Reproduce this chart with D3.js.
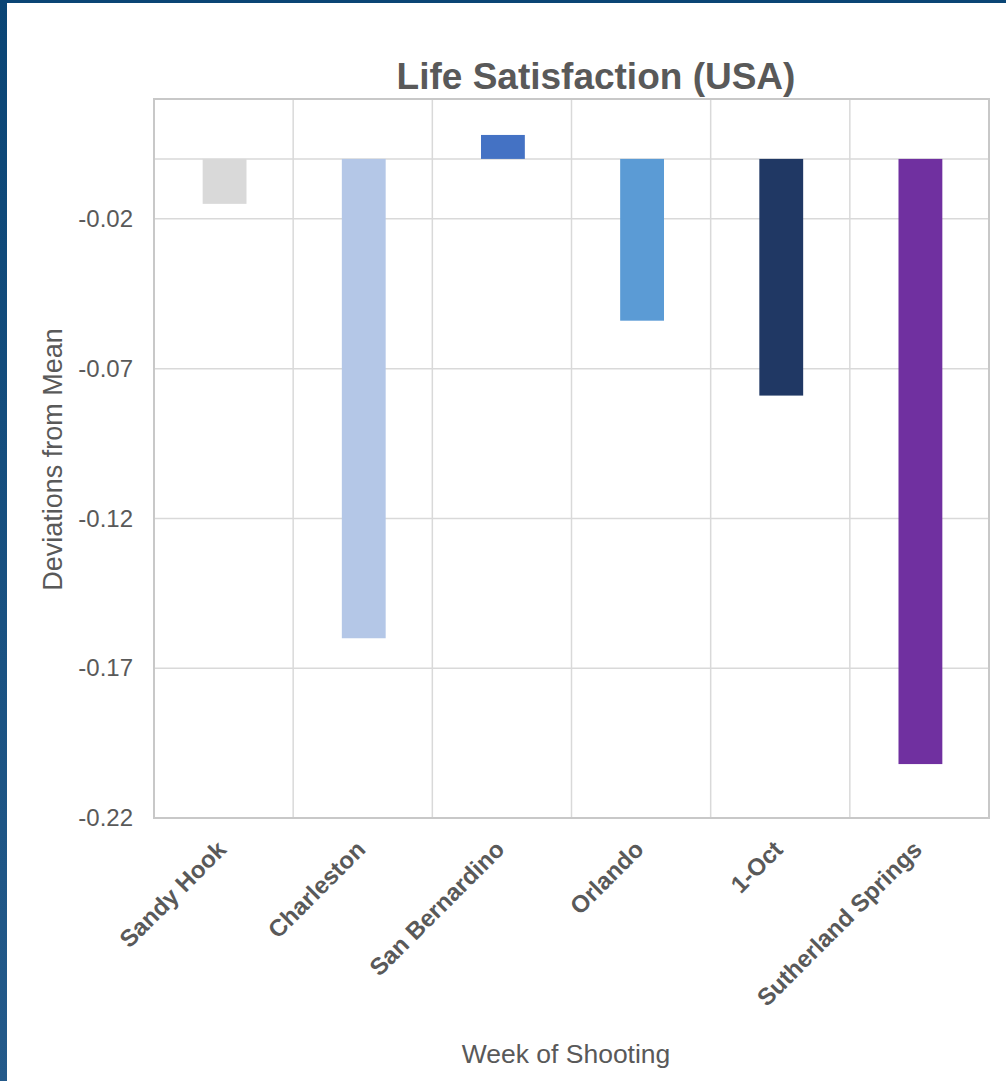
<!DOCTYPE html>
<html>
<head>
<meta charset="utf-8">
<script src="https://cdn.jsdelivr.net/npm/d3@7"></script>
<style>
  html, body { margin: 0; padding: 0; background: #fff; }
  svg { display: block; }
  text { font-family: "Liberation Sans", Arial, sans-serif; }
</style>
</head>
<body>
<svg id="chart" width="1006" height="1081"></svg>
<script>
// Weekly life-satisfaction deviations from the mean, one bar per shooting
const categories = ["Sandy Hook", "Charleston", "San Bernardino", "Orlando", "1-Oct", "Sutherland Springs"];
const deviations = [-0.015, -0.160, 0.008, -0.054, -0.079, -0.202];
const barColors = ["#d9d9d9", "#b4c7e7", "#4472c4", "#5b9bd5", "#203864", "#7030a0"];
const yTicks = [-0.22, -0.17, -0.12, -0.07, -0.02];
const yDomain = [-0.22, 0.02];

const svg = d3.select("#chart");
const W = 1006, H = 1081;
const plot = { left: 154, right: 989, top: 99, bottom: 818 };

// Frame: dark blue strip along the left and top edges
const grad = svg.append("defs").append("linearGradient")
  .attr("id", "edge").attr("x1", 0).attr("y1", 0).attr("x2", 0).attr("y2", 1);
grad.append("stop").attr("offset", "0%").attr("stop-color", "#0a4575");
grad.append("stop").attr("offset", "100%").attr("stop-color", "#245a8a");
svg.append("rect").attr("x", 0).attr("y", 0).attr("width", W).attr("height", 3).attr("fill", "#0a4575");
svg.append("rect").attr("x", 0).attr("y", 0).attr("width", 7).attr("height", H).attr("fill", "url(#edge)");

const x = d3.scaleBand().domain(categories).range([plot.left, plot.right]).paddingInner(0).paddingOuter(0);
const y = d3.scaleLinear().domain(yDomain).range([plot.bottom, plot.top]);

// Gridlines
const grid = svg.append("g");
grid.selectAll("line.h").data(yTicks.concat([0])).join("line")
  .attr("x1", plot.left).attr("x2", plot.right)
  .attr("y1", d => y(d)).attr("y2", d => y(d))
  .attr("stroke", "#d9d9d9").attr("stroke-width", 1.5);
grid.selectAll("line.v").data(categories.slice(1)).join("line")
  .attr("x1", d => x(d)).attr("x2", d => x(d))
  .attr("y1", plot.top).attr("y2", plot.bottom)
  .attr("stroke", "#d9d9d9").attr("stroke-width", 1.5);

// Plot-area border
svg.append("rect")
  .attr("x", plot.left).attr("y", plot.top)
  .attr("width", plot.right - plot.left).attr("height", plot.bottom - plot.top)
  .attr("fill", "none").attr("stroke", "#c8c8c8").attr("stroke-width", 2);

// Bars
const barW = x.bandwidth() * 0.315;
svg.append("g").selectAll("rect").data(categories).join("rect")
  .attr("x", d => x(d) + (x.bandwidth() - barW) / 2 + 1)
  .attr("width", barW)
  .attr("y", (d, i) => y(Math.max(0, deviations[i])))
  .attr("height", (d, i) => Math.abs(y(deviations[i]) - y(0)))
  .attr("fill", (d, i) => barColors[i]);

// Y axis labels (plain hyphen for the minus sign)
const fmt = d => d3.format(".2f")(d).replace("\u2212", "-");
const yAxis = d3.axisLeft(y).tickValues(yTicks).tickFormat(fmt).tickSize(0).tickPadding(21);
const yg = svg.append("g").attr("transform", `translate(${plot.left},0)`).call(yAxis);
yg.select(".domain").remove();
yg.selectAll("text").attr("font-size", 24).attr("fill", "#595959")
  .attr("font-family", "Liberation Sans, Arial, sans-serif");

// X axis labels, rotated
const xAxis = d3.axisBottom(x).tickSize(0).tickPadding(0);
const xg = svg.append("g").attr("transform", `translate(0,${plot.bottom})`).call(xAxis);
xg.select(".domain").remove();
xg.selectAll("text")
  .attr("font-size", 24).attr("font-weight", "bold").attr("fill", "#595959")
  .attr("font-family", "Liberation Sans, Arial, sans-serif")
  .attr("text-anchor", "end").attr("dy", 0).attr("y", 0)
  .attr("transform", "translate(4,33) rotate(-45)");

// Titles
svg.append("text").attr("x", 596).attr("y", 89).attr("text-anchor", "middle")
  .attr("font-size", 37).attr("font-weight", "bold").attr("fill", "#595959")
  .text("Life Satisfaction (USA)");
svg.append("text").attr("x", 566).attr("y", 1063).attr("text-anchor", "middle")
  .attr("font-size", 26.5).attr("fill", "#595959")
  .text("Week of Shooting");
svg.append("text").attr("transform", `translate(62,${(plot.top + plot.bottom) / 2 + 1}) rotate(-90)`)
  .attr("text-anchor", "middle")
  .attr("font-size", 27).attr("fill", "#595959")
  .text("Deviations from Mean");
</script>
</body>
</html>
